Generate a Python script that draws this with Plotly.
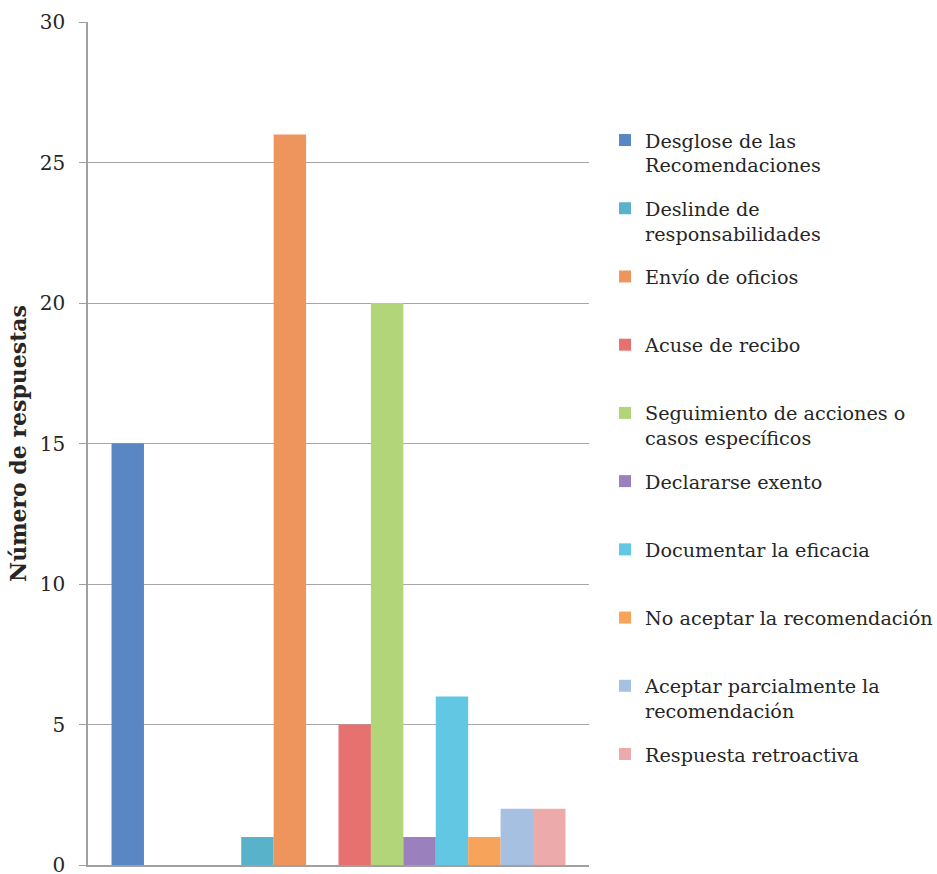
import plotly.graph_objects as go

# 14 series in a single category (4 unnamed series are empty and hidden from the legend)
series_names = [
    "Desglose de las<br>Recomendaciones",
    "", "", "",
    "Deslinde de<br>responsabilidades",
    "Envío de oficios",
    "",
    "Acuse de recibo",
    "Seguimiento de acciones o<br>casos específicos",
    "Declararse exento",
    "Documentar la eficacia",
    "No aceptar la recomendación",
    "Aceptar parcialmente la<br>recomendación",
    "Respuesta retroactiva",
]
series_values = [15, 0, 0, 0, 1, 26, 0, 5, 20, 1, 6, 1, 2, 2]
series_colors = [
    "#5A86C4", "#C0504D", "#9BBB59", "#8064A2",
    "#58B3CA", "#EE955E", "#4F81BD",
    "#E6716E", "#B2D57A", "#9A80BC", "#62C7E2",
    "#F8A35A", "#A6C0E2", "#ECAAAA",
]
category = [""]
y_ticks = [0, 5, 10, 15, 20, 25, 30]

FONT = "DejaVu Serif"

fig = go.Figure()
for i, (name, val, col) in enumerate(zip(series_names, series_values, series_colors)):
    label = name if "<br>" in name else name + "<br> "
    fig.add_trace(go.Bar(
        x=category, y=[val], name=label,
        marker=dict(color=col, line=dict(width=0)),
        showlegend=bool(name), legendgroup=f"g{i}",
    ))

fig.update_layout(
    width=937, height=874,
    margin=dict(l=88, r=348, t=22, b=9, autoexpand=False),
    paper_bgcolor="white", plot_bgcolor="white",
    barmode="group", bargap=0.094, bargroupgap=0,
    font=dict(family=FONT, color="#262626"),
    legend=dict(
        x=1.032, xanchor="left", y=0.8825, yanchor="top",
        font=dict(family=FONT, size=19.2, color="#262626"),
        valign="top", tracegroupgap=15.3, traceorder="grouped",
        bgcolor="rgba(0,0,0,0)",
    ),
    xaxis=dict(
        showticklabels=False, ticks="", showgrid=False,
        showline=True, linecolor="#A0A0A0", linewidth=1.5,
        zeroline=False,
    ),
    yaxis=dict(
        range=[0, 30], tickvals=y_ticks, showgrid=True,
        gridcolor="#A6A6A6", gridwidth=1.3,
        showline=True, linecolor="#A0A0A0", linewidth=1.5,
        ticks="outside", ticklen=7, tickcolor="#A0A0A0", tickwidth=1.3,
        ticklabelstandoff=10, ticklabeloverflow="allow",
        tickfont=dict(family=FONT, size=20, color="#262626"),
        zeroline=False,
        title=dict(text="Número de respuestas",
                   font=dict(family=FONT, size=22, color="#262626", weight="bold"),
                   standoff=7),
    ),
)

# remove the page's default body margin so the figure fills the window exactly
fig.write_html(
    "out.html",
    config={"displayModeBar": False},
    post_script="document.body.style.margin='0';document.body.style.overflow='hidden';",
)
